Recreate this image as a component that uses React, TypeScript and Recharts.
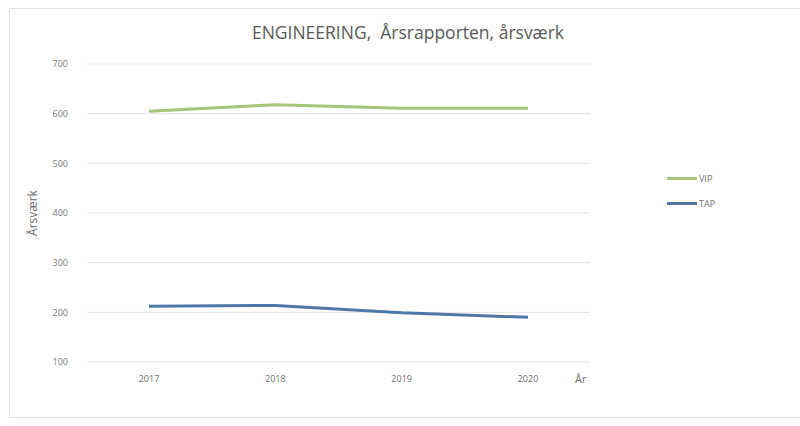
import { LineChart, Line, XAxis, YAxis, CartesianGrid } from "recharts";

const years = ["2017", "2018", "2019", "2020"];
const vip = [605, 618, 611, 611];
const tap = [212, 214, 199, 190];
const yTicks = [100, 200, 300, 400, 500, 600, 700];

const data = years.map((year, i) => ({ year, VIP: vip[i], TAP: tap[i] }));

const font = "'Open Sans', 'Noto Sans', sans-serif";

const series = [
  { key: "VIP", color: "#a8c57c" },
  { key: "TAP", color: "#4e78a8" },
];

function LegendBox() {
  return (
    <div style={{ position: "absolute", left: 667, top: 166, fontFamily: font, fontSize: 9, color: "#777" }}>
      {series.map((s) => (
        <div key={s.key} style={{ display: "flex", alignItems: "center", height: 25 }}>
          <span style={{ display: "inline-block", width: 30, height: 3, background: s.color, marginRight: 2 }} />
          {s.key}
        </div>
      ))}
    </div>
  );
}

export default function App() {
  return (
    <div style={{ position: "absolute", left: 0, top: 0, width: 800, height: 426, background: "#fff" }}>
      <div
        style={{
          position: "absolute",
          left: 9,
          top: 8,
          width: 800,
          height: 410,
          border: "1px solid #e2e2e2",
          boxSizing: "border-box",
        }}
      />
      <div
        style={{
          position: "absolute",
          left: 0,
          width: 800,
          top: 20,
          textAlign: "center",
          paddingLeft: 16,
          boxSizing: "border-box",
          fontFamily: font,
          fontSize: 17.5,
          color: "#595959",
        }}
      >
        ENGINEERING,&nbsp; Årsrapporten, årsværk
      </div>
      <LineChart width={800} height={426} data={data} margin={{ top: 64, right: 210, bottom: 34, left: 27 }}>
        <CartesianGrid vertical={false} stroke="#e4e4e4" />
        <XAxis
          dataKey="year"
          axisLine={false}
          tickLine={false}
          padding={{ left: 62, right: 62 }}
          tick={{ fill: "#6f6f6f", fontSize: 9, fontFamily: font }}
          height={30}
          tickMargin={8}
        />
        <YAxis
          domain={[100, 700]}
          ticks={yTicks}
          axisLine={false}
          tickLine={false}
          width={60}
          tickMargin={13}
          tick={{ fill: "#7a7a7a", fontSize: 9, fontFamily: font }}
          label={{
            value: "Årsværk",
            angle: -90,
            position: "insideLeft",
            offset: 6,
            style: { fill: "#6f6f6f", fontSize: 12, fontFamily: font, textAnchor: "middle" },
          }}
        />
        {series.map((s) => (
          <Line
            key={s.key}
            dataKey={s.key}
            stroke={s.color}
            strokeWidth={3}
            dot={false}
            isAnimationActive={false}
          />
        ))}
      </LineChart>
      <LegendBox />
      <div
        style={{
          position: "absolute",
          left: 575,
          top: 371,
          fontFamily: font,
          fontSize: 11,
          color: "#6f6f6f",
        }}
      >
        År
      </div>
    </div>
  );
}
